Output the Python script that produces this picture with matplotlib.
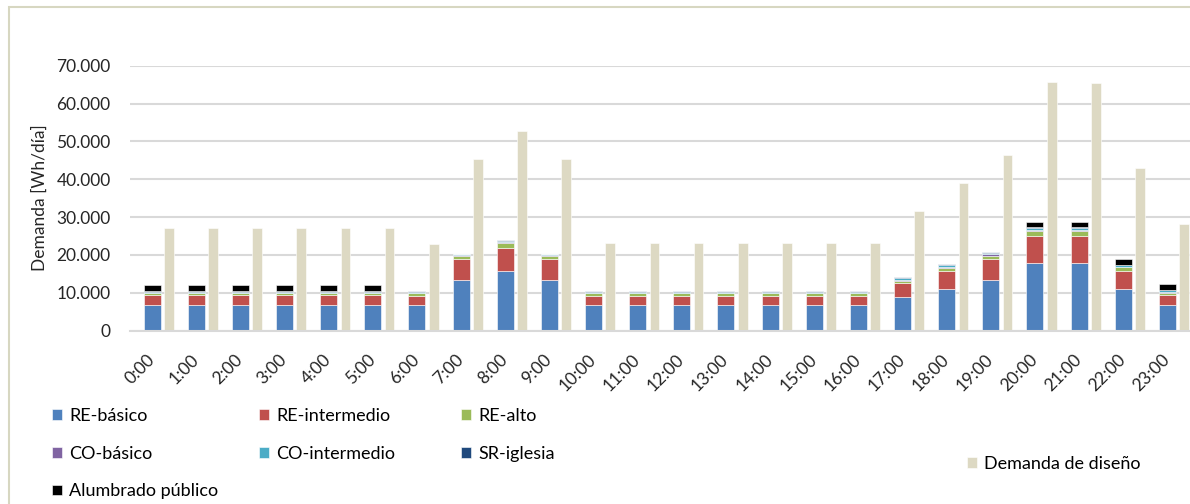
import matplotlib.pyplot as plt
import numpy as np
from matplotlib.patches import Rectangle
from matplotlib.ticker import FuncFormatter

plt.rcParams['font.family'] = ['Lato', 'DejaVu Sans']

horas = [f'{h}:00' for h in range(24)]

# Wh/dia per hour
re_basico = [6700, 6700, 6700, 6700, 6700, 6700, 6700, 13400, 15700, 13400, 6700, 6700,
             6700, 6700, 6700, 6700, 6700, 8800, 11000, 13400, 17900, 17900, 11000, 6700]
re_intermedio = [2600, 2600, 2600, 2600, 2600, 2600, 2500, 5500, 6200, 5500, 2500, 2500,
                 2500, 2500, 2500, 2500, 2500, 3700, 4600, 5500, 7100, 7100, 4700, 2600]
re_alto = [600, 600, 600, 600, 600, 600, 600, 900, 1300, 900, 600, 600,
           600, 600, 600, 600, 600, 600, 900, 900, 1300, 1300, 1000, 600]
co_basico = [100, 100, 100, 100, 100, 100, 100, 100, 100, 100, 100, 100,
             100, 100, 100, 100, 100, 300, 300, 300, 300, 300, 200, 200]
co_intermedio = [300, 300, 300, 300, 300, 300, 300, 200, 300, 200, 300, 300,
                 300, 300, 300, 300, 300, 400, 500, 400, 500, 500, 400, 500]
sr_iglesia = [100, 100, 100, 100, 100, 100, 200, 200, 200, 200, 200, 200,
              200, 200, 200, 200, 200, 300, 300, 200, 200, 200, 100, 100]
alumbrado = [1500, 1500, 1500, 1500, 1500, 1500, 0, 0, 0, 0, 0, 0,
             0, 0, 0, 0, 0, 0, 0, 0, 1500, 1500, 1600, 1600]
demanda_diseno = [27200, 27200, 27200, 27200, 27200, 27200, 22800, 45300, 52800, 45300, 23000, 23000,
                  23000, 23000, 23000, 23000, 23000, 31500, 39000, 46400, 65600, 65400, 43000, 28100]

series = [
    ('RE-básico', re_basico, '#4F81BD'),
    ('RE-intermedio', re_intermedio, '#C0504D'),
    ('RE-alto', re_alto, '#9BBB59'),
    ('CO-básico', co_basico, '#8064A2'),
    ('CO-intermedio', co_intermedio, '#4BACC6'),
    ('SR-iglesia', sr_iglesia, '#1F497D'),
    ('Alumbrado público', alumbrado, '#000000'),
]
color_diseno = '#DDD9C3'

fig = plt.figure(figsize=(11.9, 5.04), dpi=100)
ax = fig.add_axes([130 / 1190, 1 - 330.5 / 504, 1059.5 / 1190, 264.8 / 504])

x = np.arange(len(horas))
bottom = np.zeros(len(horas))
handles = {}
for name, vals, col in series:
    b = ax.bar(x, vals, width=0.385, bottom=bottom, color=col, edgecolor='white', linewidth=0.4, label=name)
    handles[name] = b
    bottom += np.array(vals)
hd = ax.bar(x + 0.38, demanda_diseno, width=0.22, color=color_diseno, edgecolor='white', linewidth=0.4,
            label='Demanda de diseño')

ax.set_xlim(-0.5, 23.5)
ax.set_ylim(0, 70000)
ax.set_yticks(range(0, 70001, 10000))
ax.yaxis.set_major_formatter(FuncFormatter(lambda v, p: f'{int(v):,}'.replace(',', '.')))
ax.grid(axis='y', color='#D9D9D9', linewidth=1.5)
ax.set_axisbelow(True)
for s in ['top', 'right', 'left']:
    ax.spines[s].set_visible(False)
ax.spines['bottom'].set_color('#D9D9D9')
ax.spines['bottom'].set_linewidth(1.5)
ax.tick_params(axis='both', length=0, labelsize=12.5, colors='#262626')
ax.tick_params(axis='y', pad=14)
ax.set_xticks(x)
ax.set_xticklabels(horas, rotation=45, ha='right', va='center', rotation_mode='anchor')
ax.tick_params(axis='x', pad=19)
ax.set_ylabel('Demanda [Wh/día]', fontsize=12.5, color='#262626', labelpad=6)

# legend, one per column
leg_kw = dict(loc='upper left', frameon=False, fontsize=13, handlelength=0.55, handleheight=0.55,
              handletextpad=0.4, labelspacing=1.2, borderaxespad=0, borderpad=0)
cols = [(['RE-básico', 'CO-básico', 'Alumbrado público'], 52), (['RE-intermedio', 'CO-intermedio'], 259),
        (['RE-alto', 'SR-iglesia'], 461)]
for names, px in cols:
    fig.legend([handles[n] for n in names], names, bbox_to_anchor=(px / 1190, 1 - 408 / 504), **leg_kw)
fig.legend([hd], ['Demanda de diseño'], bbox_to_anchor=(967 / 1190, 1 - 456 / 504), **leg_kw)

fig.patches.append(Rectangle((9 / 1190, -0.1), 1.2, 1.1 - 7 / 504, transform=fig.transFigure,
                             fill=False, edgecolor='#D7D7C1', linewidth=1.5))

fig.savefig('out.png', dpi=100)
